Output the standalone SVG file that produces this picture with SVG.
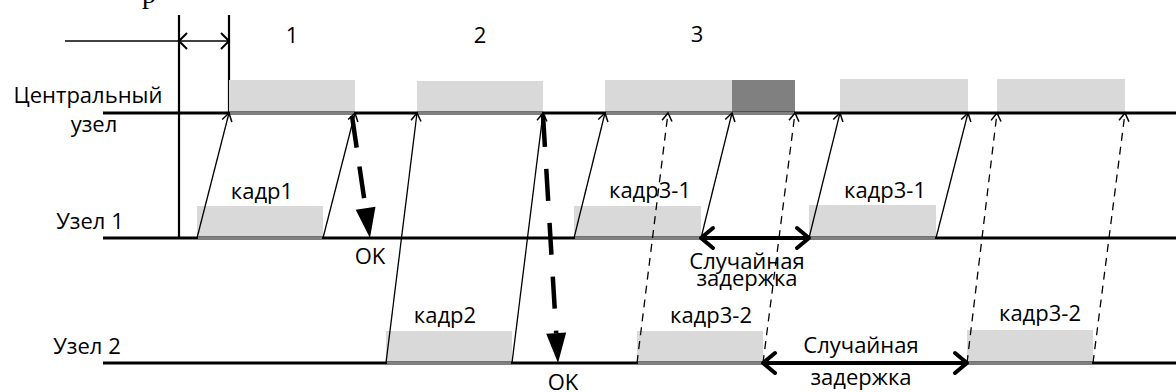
<svg xmlns="http://www.w3.org/2000/svg" width="1176" height="392" viewBox="0 0 1176 392">
<defs>
<style>
text{font-family:"Open Sans","Liberation Sans",sans-serif;font-size:22px;fill:#000}
.mid{text-anchor:middle}
.axis{stroke:#000;stroke-width:2.8;fill:none}
.slot{fill:#d9d9d9}
.busy{fill:#808080}
.edge{stroke:#808080;stroke-width:2.6}
.sig{stroke:#000;stroke-width:1.3;fill:none;marker-end:url(#open)}
.dash{stroke-dasharray:8 6}
.ok{stroke:#000;stroke-width:4.5;fill:none;marker-end:url(#tri)}
.delay{stroke:#000;stroke-width:4;fill:none;marker-start:url(#chev);marker-end:url(#chev)}
.thin{stroke:#000;stroke-width:2;fill:none}
</style>
<marker id="open" markerUnits="userSpaceOnUse" markerWidth="20" markerHeight="20" viewBox="-10 -10 20 20" refX="0" refY="0" orient="auto" overflow="visible">
<path d="M-8,-5 L0,0 L-8,5" fill="none" stroke="#000" stroke-width="1.5" stroke-dasharray="none"/>
</marker>
<marker id="tri" markerUnits="userSpaceOnUse" markerWidth="40" markerHeight="40" viewBox="-5 -20 40 40" refX="0" refY="0" orient="auto" overflow="visible">
<path d="M0,-10 L30,0 L0,10 Z" fill="#000" stroke="none"/>
</marker>
<marker id="chev" markerUnits="userSpaceOnUse" markerWidth="30" markerHeight="30" viewBox="-15 -15 30 30" refX="0" refY="0" orient="auto-start-reverse" overflow="visible">
<path d="M-12,-10 L0,0 L-12,10" fill="none" stroke="#000" stroke-width="4" stroke-linecap="round" stroke-linejoin="round"/>
</marker>
</defs>
<rect width="1176" height="392" fill="#fff"/>

<text x="142" y="3" style="font-family:'Liberation Serif',serif;font-size:28px">р</text>

<g id="interval">
<line class="thin" x1="179" y1="15" x2="179" y2="238" style="stroke-width:2.2"/>
<line class="thin" x1="229" y1="15" x2="229" y2="113" style="stroke-width:2.2"/>
<line class="thin" x1="65" y1="41" x2="229" y2="41" style="stroke-width:1.5"/>
<polyline class="thin" points="187,33 179,41 187,49"/>
<polyline class="thin" points="221,33 229,41 221,49"/>
<text class="mid" x="292" y="43">1</text>
<text class="mid" x="480" y="43">2</text>
<text class="mid" x="697" y="42">3</text>
</g>

<g id="node-central">
<text class="mid" x="88" y="103">Центральный</text>
<text class="mid" x="94" y="132">узел</text>
<rect class="slot" x="229" y="80" width="126" height="33"/>
<rect class="slot" x="417" y="81" width="126" height="32"/>
<rect class="slot" x="605" y="80" width="127" height="33"/>
<rect class="busy" x="732" y="80" width="63" height="33"/>
<rect class="slot" x="840" y="79" width="128" height="34"/>
<rect class="slot" x="997" y="79" width="128" height="34"/>
<line class="axis" x1="103" y1="113" x2="1176" y2="113"/>
<line class="edge" x1="230" y1="113" x2="354" y2="113"/>
<line class="edge" x1="418" y1="113" x2="542" y2="113"/>
<line class="edge" x1="606" y1="113" x2="794" y2="113"/>
</g>

<g id="node-1">
<text class="mid" x="90" y="229">Узел 1</text>
<rect class="slot" x="197" y="206" width="126" height="32"/>
<rect class="slot" x="574" y="206" width="127" height="32"/>
<rect class="slot" x="809" y="205" width="127" height="33"/>
<line class="axis" x1="103" y1="238" x2="1176" y2="238"/>
<line class="edge" x1="198" y1="238" x2="322" y2="238"/>
<line class="edge" x1="575" y1="238" x2="700" y2="238"/>
<line class="edge" x1="810" y1="238" x2="935" y2="238"/>
<text class="mid" x="262" y="199">кадр1</text>
<text class="mid" x="650" y="198">кадр3-1</text>
<text class="mid" x="885" y="198">кадр3-1</text>
</g>

<g id="node-2">
<text class="mid" x="87" y="354">Узел 2</text>
<rect class="slot" x="386" y="331" width="126" height="32"/>
<rect class="slot" x="637" y="331" width="126" height="32"/>
<rect class="slot" x="967" y="330" width="126" height="33"/>
<line class="axis" x1="103" y1="363" x2="1176" y2="363"/>
<line class="edge" x1="387" y1="363" x2="511" y2="363"/>
<line class="edge" x1="638" y1="363" x2="762" y2="363"/>
<line class="edge" x1="968" y1="363" x2="1092" y2="363"/>
<text class="mid" x="445" y="323">кадр2</text>
<text class="mid" x="711" y="323">кадр3-2</text>
<text class="mid" x="1040" y="321">кадр3-2</text>
</g>

<g id="connectors">
<line class="sig" x1="197" y1="238" x2="229" y2="113"/>
<line class="sig" x1="323" y1="238" x2="355" y2="113"/>
<line class="sig" x1="386" y1="363" x2="417" y2="113"/>
<line class="sig" x1="512" y1="363" x2="543" y2="113"/>
<line class="sig" x1="574" y1="238" x2="605" y2="113"/>
<line class="sig" x1="701" y1="238" x2="732" y2="113"/>
<line class="sig" x1="809" y1="238" x2="840" y2="113"/>
<line class="sig" x1="936" y1="238" x2="968" y2="113"/>
<line class="sig dash" x1="637" y1="363" x2="668" y2="113"/>
<line class="sig dash" x1="763" y1="363" x2="795" y2="113"/>
<line class="sig dash" x1="967" y1="363" x2="997" y2="113"/>
<line class="sig dash" x1="1093" y1="363" x2="1125" y2="113"/>
<line class="ok" x1="352" y1="116" x2="365.6" y2="208.3" style="stroke-dasharray:32 19"/>
<line class="ok" x1="543" y1="115" x2="556.2" y2="333.1" style="stroke-dasharray:32 22"/>
<line class="delay" x1="701" y1="238" x2="809" y2="238"/>
<line class="delay" x1="763" y1="363" x2="967" y2="363"/>
</g>

<g id="annotations">
<text class="mid" x="370" y="264">OK</text>
<text class="mid" x="563" y="390">OK</text>
<text class="mid" x="747" y="269">Случайная</text>
<text class="mid" x="747" y="286">задержка</text>
<text class="mid" x="861" y="353">Случайная</text>
<text class="mid" x="861" y="385">задержка</text>
</g>
</svg>
